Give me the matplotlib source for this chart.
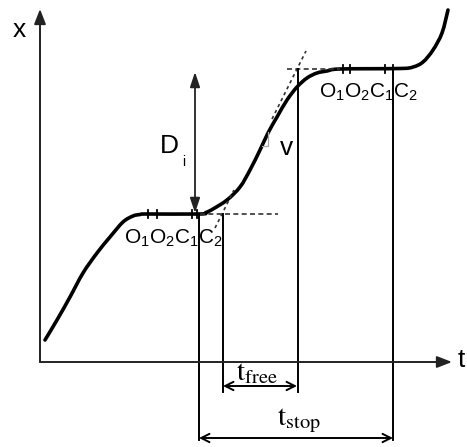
import numpy as np
import matplotlib.pyplot as plt
from matplotlib.path import Path
from matplotlib.patches import PathPatch

plt.rcParams['mathtext.fontset'] = 'custom'
plt.rcParams['mathtext.rm'] = 'Liberation Sans'
plt.rcParams['mathtext.it'] = 'Liberation Sans'

# curve (pixel coordinates, y down)
curve_x = [45, 57, 70, 83, 97, 110, 123, 133, 140, 147, 200, 206, 213, 227, 240, 250,
           260, 268, 277, 287, 297, 307, 317, 327, 340, 400, 413, 423, 433, 442, 448]
curve_y = [340, 320, 297, 273, 253, 237, 222, 216, 214.5, 214, 214, 212.5, 209, 200, 187, 170,
           150, 133, 117, 100, 87, 78, 73, 71, 69, 68.5, 67, 62, 50, 33, 10]

# plateau levels and event ticks
low_level = 214
high_level = 69
low_ticks = [148, 157, 192, 197]
high_ticks = [343, 350, 385, 393]
tick_half = 4

# vertical marker lines: (x, top, bottom)
vlines = [(199, 214, 440), (223, 214, 392), (298, 69, 392), (393, 69, 440)]

# tangents: (x0, y0, x1, y1)
tangent_low = (215, 228, 234, 190)
tangent_high = (272, 119, 306, 51)
dash_low = (200, 278)
dash_high = (287, 340)

fig = plt.figure(figsize=(4.67, 4.47), dpi=100)
ax = fig.add_axes([0, 0, 1, 1])
ax.set_xlim(0, 467)
ax.set_ylim(447, 0)
ax.axis('off')

# axes arrows
ax.annotate('', xy=(40, 9), xytext=(40, 362),
            arrowprops=dict(arrowstyle='-|>,head_length=0.9,head_width=0.35', color='#222222', lw=1.4, shrinkA=0, shrinkB=0))
ax.annotate('', xy=(452, 362), xytext=(40, 362),
            arrowprops=dict(arrowstyle='-|>,head_length=0.9,head_width=0.35', color='#222222', lw=1.4, shrinkA=0, shrinkB=0))
ax.text(19, 30, 'x', fontsize=19, family='Liberation Sans', ha='center', va='center')
ax.text(458, 360, 't', fontsize=19, family='Liberation Sans', ha='left', va='center')

# main curve, smoothed through the read points (Catmull-Rom as cubic Bezier)
pts = np.column_stack([curve_x, curve_y]).astype(float)
n = len(pts)
verts = [pts[0]]
codes = [Path.MOVETO]
for i in range(n - 1):
    p_prev = pts[max(i - 1, 0)]
    p_next = pts[min(i + 2, n - 1)]
    c1 = pts[i] + (pts[i + 1] - p_prev) / 6
    c2 = pts[i + 1] - (p_next - pts[i]) / 6
    verts += [c1, c2, pts[i + 1]]
    codes += [Path.CURVE4] * 3
ax.add_patch(PathPatch(Path(verts, codes), fill=False, edgecolor='black', lw=2.6,
                       capstyle='round', joinstyle='round'))

# dashed helpers
ax.plot(dash_low, [low_level, low_level], color='#333333', lw=1.2, ls=(0, (3, 2)))
ax.plot(dash_high, [high_level, high_level], color='#333333', lw=1.2, ls=(0, (3, 2)))
ax.plot(tangent_low[::2], tangent_low[1::2], color='#333333', lw=1.2, ls=(0, (2, 2)))
ax.plot(tangent_high[::2], tangent_high[1::2], color='#333333', lw=1.2, ls=(0, (2, 2)))

# slope corner near v
ax.plot([262, 268, 268], [146, 146, 132], color='#aaaaaa', lw=0.9)

# ticks on plateaus
for tx in low_ticks:
    ax.plot([tx, tx], [low_level - tick_half, low_level + tick_half], color='black', lw=1.3)
for tx in high_ticks:
    ax.plot([tx, tx], [high_level - tick_half, high_level + tick_half], color='black', lw=1.3)

# vertical lines
for vx, top, bot in vlines:
    ax.plot([vx, vx], [top, bot], color='black', lw=1.4)

# event labels
ev_label = r'O$_1$O$_2$C$_1$C$_2$'
ax.text(124, 238, ev_label, fontsize=15, family='Liberation Sans', ha='left', va='center', math_fontfamily='custom')
ax.text(319, 92, ev_label, fontsize=15, family='Liberation Sans', ha='left', va='center', math_fontfamily='custom')

# D_i arrow
ax.annotate('', xy=(195, 72), xytext=(195, 213),
            arrowprops=dict(arrowstyle='<|-|>,head_length=0.9,head_width=0.3', color='#222222', lw=1.3, shrinkA=0, shrinkB=0))
ax.text(160, 146, 'D', fontsize=19, family='Liberation Sans', ha='left', va='center')
ax.text(182, 162, 'i', fontsize=10, family='Liberation Sans', ha='left', va='center')
ax.text(280, 148, 'v', fontsize=19, family='Liberation Sans', ha='left', va='center')

# durations
ax.annotate('', xy=(223, 386), xytext=(297, 386),
            arrowprops=dict(arrowstyle='<->,head_length=0.6,head_width=0.3', color='black', lw=1.4, shrinkA=0, shrinkB=0))
ax.annotate('', xy=(199, 438), xytext=(393, 438),
            arrowprops=dict(arrowstyle='<->,head_length=0.6,head_width=0.3', color='black', lw=1.4, shrinkA=0, shrinkB=0))
ax.text(236, 372, r'$\mathrm{t}_{\mathrm{free}}$', fontsize=21, ha='left', va='center', math_fontfamily='stix')
ax.text(277, 421, r'$\mathrm{t}_{\mathrm{stop}}$', fontsize=21, ha='left', va='center', math_fontfamily='stix')

fig.savefig('out.png', dpi=100)
